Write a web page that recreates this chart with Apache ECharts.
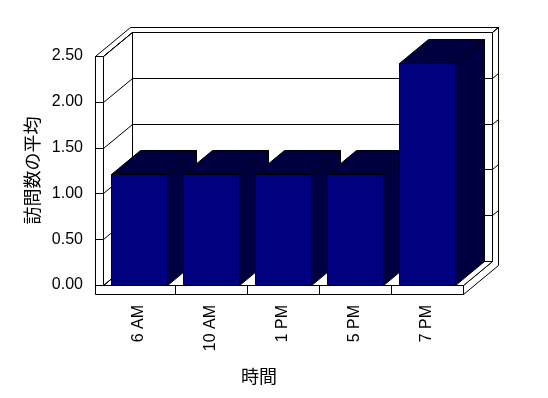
<!DOCTYPE html>
<html><head><meta charset="utf-8">
<script src="https://cdn.jsdelivr.net/npm/echarts@6/dist/echarts.min.js"></script>
<style>html,body{margin:0;padding:0;background:#fff}#c{width:548px;height:398px}</style>
</head><body><div id="c"></div>
<script>
const categories = ['6 AM', '10 AM', '1 PM', '5 PM', '7 PM'];
const visitAverages = [1.21, 1.21, 1.21, 1.21, 2.42];
const yTicks = [0, 0.5, 1, 1.5, 2, 2.5];
const yAxisTitle = '訪問数の平均';
const xAxisTitle = '時間';

// styling constants (3D look)
const DEPTH = [29, -24];
const WALL = [6, -5];
const LEFT_T = 8, FLOOR_T = 9;
const NAVY = '#000080';
const SHADE = '#000040';
const BAR_RATIO = 0.79;

const snap = v => Math.round(v) + 0.5;
const add = (p, v) => [p[0] + v[0], p[1] + v[1]];

function renderFrame(params, api) {
  const cs = params.coordSys;
  const L = snap(cs.x), R = snap(cs.x + cs.width), T = snap(cs.y), B = snap(cs.y + cs.height);
  const D = DEPTH, DT = [DEPTH[0] + WALL[0], DEPTH[1] + WALL[1]];
  const lw = LEFT_T, fh = FLOOR_T;
  const st = { fill: '#fff', stroke: '#000', lineWidth: 1 };
  const poly = pts => ({ type: 'polygon', shape: { points: pts }, style: st });
  const line = (a, b) => ({ type: 'line', shape: { x1: a[0], y1: a[1], x2: b[0], y2: b[1] }, style: { stroke: '#000', lineWidth: 1 } });
  const ys = yTicks.map(v => snap(api.coord([0, v])[1]));
  const k = [];
  k.push(poly([add([L, T], D), add([R, T], D), add([R, B], D), add([L, B], D)]));
  ys.forEach(y => k.push(line(add([L, y], D), add([R, y], D))));
  k.push(poly([[L - lw, T], [L, T], add([L, T], D), add([R, T], D), add([R, T], DT), add([L - lw, T], DT)]));
  k.push(poly([add([R, T], D), add([R, T], DT), add([R, B + fh], DT), [R, B + fh], [R, B], add([R, B], D)]));
  ys.forEach(y => { if (y < B) k.push(line(add([R, y], D), add([R, y], DT))); });
  k.push(poly([[L, B], [R, B], add([R, B], D), add([L, B], D)]));
  k.push(poly([[L, T], [L, B], add([L, B], D), add([L, T], D)]));
  ys.forEach(y => k.push(line([L, y], add([L, y], D))));
  k.push(poly([[L - lw, T], [L, T], [L, B], [R, B], [R, B + fh], [L - lw, B + fh]]));
  ys.forEach(y => k.push(line([L - lw, y], [L, y])));
  const band = cs.width / categories.length;
  for (let i = 1; i < categories.length; i++) {
    const x = snap(cs.x + band * i);
    k.push(line([x, B], [x, B + fh]));
  }
  return { type: 'group', children: k };
}

function renderBar(params, api) {
  const c = api.coord([api.value(0), api.value(1)]);
  const base = api.coord([api.value(0), 0]);
  const band = api.size([1, 0])[0];
  const bw = band * BAR_RATIO;
  const x0 = snap(c[0] - bw / 2), x1 = snap(c[0] + bw / 2), yT = snap(c[1]), yB = snap(base[1]);
  const D = DEPTH;
  const dark = { fill: SHADE, stroke: '#000', lineWidth: 1 };
  return {
    type: 'group', children: [
      { type: 'polygon', shape: { points: [[x1, yT], [x1, yB], add([x1, yB], D), add([x1, yT], D)] }, style: dark },
      { type: 'polygon', shape: { points: [[x0, yT], [x1, yT], add([x1, yT], D), add([x0, yT], D)] }, style: dark },
      { type: 'polygon', shape: { points: [[x0, yT], [x1, yT], [x1, yB], [x0, yB]] }, style: { fill: NAVY, stroke: '#000', lineWidth: 1 } }
    ]
  };
}

const chart = echarts.init(document.getElementById('c'), null, { renderer: 'canvas' });
chart.setOption({
  animation: false,
  backgroundColor: '#fff',
  grid: { left: 103, right: 85, top: 56, bottom: 113 },
  xAxis: {
    type: 'category', data: categories,
    axisLine: { show: false }, axisTick: { show: false }, splitLine: { show: false },
    axisLabel: { rotate: 90, margin: 20, fontSize: 16, color: '#000', fontFamily: 'Liberation Sans' },
    name: xAxisTitle, nameLocation: 'middle', nameGap: 82,
    nameTextStyle: { fontSize: 18, color: '#000', fontFamily: 'Noto Sans CJK JP', padding: [0, 48, 0, 0] }
  },
  yAxis: {
    type: 'value', min: 0, max: 2.5, interval: 0.5,
    axisLine: { show: false }, axisTick: { show: false }, splitLine: { show: false },
    axisLabel: { margin: 20, fontSize: 16, color: '#000', fontFamily: 'Liberation Sans', formatter: v => v.toFixed(2) },
    name: yAxisTitle, nameLocation: 'middle', nameGap: 62, nameRotate: 90,
    nameTextStyle: { fontSize: 18, color: '#000', fontFamily: 'Noto Sans CJK JP' }
  },
  series: [
    { type: 'custom', z: 1, silent: true, renderItem: renderFrame, data: [[0, 0]], clip: false },
    { type: 'custom', z: 2, renderItem: renderBar, data: categories.map((c, i) => [i, visitAverages[i]]), encode: { x: 0, y: 1 }, clip: false }
  ]
});
</script></body></html>
